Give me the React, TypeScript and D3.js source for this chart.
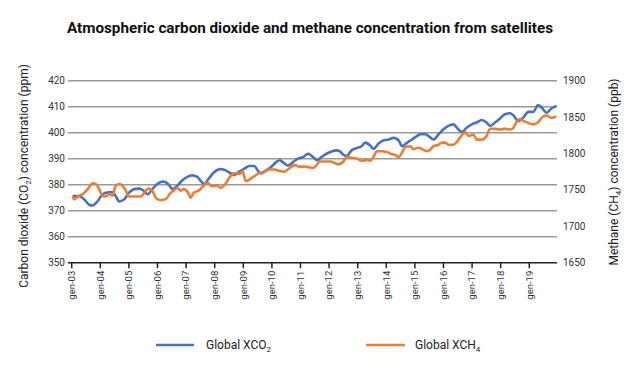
import React from "react";
import * as d3 from "d3";

const title = "Atmospheric carbon dioxide and methane concentration from satellites";
const yearTicks = [2003, 2004, 2005, 2006, 2007, 2008, 2009, 2010, 2011, 2012, 2013, 2014, 2015, 2016, 2017, 2018, 2019];
const yearLabels = ["gen-03", "gen-04", "gen-05", "gen-06", "gen-07", "gen-08", "gen-09", "gen-10", "gen-11", "gen-12", "gen-13", "gen-14", "gen-15", "gen-16", "gen-17", "gen-18", "gen-19"];
const co2Ticks = [350, 360, 370, 380, 390, 400, 410, 420];
const ch4Ticks = [1650, 1700, 1750, 1800, 1850, 1900];

const co2Time = [2003.03, 2003.27, 2003.44, 2003.61, 2003.73, 2003.9, 2004.08, 2004.25, 2004.43, 2004.54, 2004.66, 2004.83, 2005.01, 2005.18, 2005.36, 2005.53, 2005.65, 2005.82, 2005.99, 2006.17, 2006.28, 2006.4, 2006.52, 2006.69, 2006.86, 2007.04, 2007.21, 2007.39, 2007.5, 2007.62, 2007.79, 2007.97, 2008.2, 2008.37, 2008.55, 2008.68, 2008.86, 2009.04, 2009.21, 2009.39, 2009.5, 2009.62, 2009.8, 2009.97, 2010.15, 2010.27, 2010.38, 2010.56, 2010.74, 2010.91, 2011.09, 2011.27, 2011.44, 2011.58, 2011.73, 2011.91, 2012.09, 2012.26, 2012.38, 2012.5, 2012.61, 2012.79, 2012.97, 2013.14, 2013.26, 2013.44, 2013.55, 2013.73, 2013.91, 2014.08, 2014.26, 2014.43, 2014.55, 2014.72, 2014.9, 2015.07, 2015.19, 2015.36, 2015.48, 2015.65, 2015.83, 2016.0, 2016.17, 2016.35, 2016.47, 2016.64, 2016.81, 2016.99, 2017.16, 2017.34, 2017.51, 2017.63, 2017.8, 2017.97, 2018.15, 2018.33, 2018.44, 2018.62, 2018.79, 2018.97, 2019.14, 2019.31, 2019.43, 2019.6, 2019.78, 2019.95];
const co2Values = [375.6, 375.6, 374.3, 372.3, 372.0, 373.6, 376.3, 377.0, 377.2, 375.6, 373.6, 374.3, 377.0, 378.3, 378.5, 377.6, 376.3, 378.3, 380.3, 381.2, 381.0, 379.9, 378.3, 379.6, 381.6, 383.0, 383.6, 383.0, 381.6, 380.3, 382.3, 384.7, 386.0, 385.6, 384.4, 383.7, 385.0, 386.2, 387.2, 387.2, 385.5, 384.3, 385.5, 386.8, 388.7, 389.4, 388.7, 387.4, 388.7, 390.0, 390.6, 391.9, 390.6, 389.4, 390.6, 391.9, 392.8, 393.2, 392.8, 391.5, 391.0, 393.2, 394.1, 394.8, 396.2, 395.1, 393.8, 395.8, 397.1, 397.4, 398.0, 397.1, 394.8, 396.1, 397.4, 398.7, 399.4, 399.4, 398.7, 397.4, 399.4, 401.3, 402.6, 403.2, 401.9, 400.3, 401.9, 403.2, 403.9, 404.9, 403.9, 402.6, 403.9, 405.4, 407.1, 407.5, 406.7, 404.5, 405.8, 408.0, 408.0, 410.6, 409.7, 407.7, 409.3, 410.3];

const ch4Time = [2003.03, 2003.09, 2003.21, 2003.38, 2003.56, 2003.73, 2003.85, 2003.96, 2004.08, 2004.19, 2004.31, 2004.43, 2004.54, 2004.66, 2004.77, 2004.89, 2005.01, 2005.24, 2005.41, 2005.59, 2005.7, 2005.82, 2005.94, 2006.11, 2006.28, 2006.46, 2006.57, 2006.69, 2006.81, 2006.92, 2007.1, 2007.15, 2007.27, 2007.44, 2007.62, 2007.73, 2007.91, 2008.08, 2008.2, 2008.37, 2008.53, 2008.68, 2008.86, 2008.98, 2009.09, 2009.21, 2009.39, 2009.56, 2009.74, 2009.92, 2010.09, 2010.27, 2010.44, 2010.62, 2010.8, 2010.97, 2011.15, 2011.32, 2011.44, 2011.56, 2011.68, 2011.85, 2012.03, 2012.2, 2012.32, 2012.5, 2012.61, 2012.79, 2012.97, 2013.14, 2013.32, 2013.44, 2013.55, 2013.67, 2013.85, 2014.02, 2014.2, 2014.32, 2014.43, 2014.55, 2014.66, 2014.84, 2014.95, 2015.13, 2015.3, 2015.42, 2015.53, 2015.65, 2015.83, 2015.94, 2016.06, 2016.17, 2016.35, 2016.47, 2016.64, 2016.76, 2016.87, 2017.05, 2017.16, 2017.34, 2017.51, 2017.63, 2017.8, 2017.97, 2018.15, 2018.33, 2018.44, 2018.62, 2018.79, 2018.97, 2019.14, 2019.31, 2019.49, 2019.6, 2019.78, 2019.95];
const ch4Values = [1741, 1737, 1741, 1744, 1751, 1759, 1758, 1751, 1742, 1741, 1744, 1742, 1756, 1758, 1756, 1749, 1741, 1741, 1741, 1749, 1752, 1749, 1739, 1736, 1737, 1746, 1749, 1753, 1749, 1751, 1744, 1739, 1746, 1749, 1756, 1760, 1755, 1756, 1753, 1758, 1768, 1773, 1772, 1775, 1762, 1764, 1769, 1773, 1775, 1778, 1778, 1776, 1775, 1780, 1784, 1782, 1782, 1781, 1780, 1784, 1789, 1789, 1789, 1787, 1785, 1789, 1795, 1794, 1793, 1790, 1791, 1790, 1795, 1803, 1803, 1802, 1799, 1798, 1795, 1801, 1809, 1810, 1806, 1808, 1805, 1803, 1805, 1810, 1812, 1815, 1815, 1812, 1812, 1816, 1825, 1829, 1824, 1826, 1819, 1819, 1824, 1834, 1834, 1833, 1834, 1833, 1835, 1847, 1845, 1842, 1840, 1843, 1851, 1852, 1849, 1851];

const FONT = "Roboto, 'Liberation Sans', sans-serif";
const BLUE = "#4472C4";
const ORANGE = "#ED7D31";

export default function App() {
  const left = 68, right = 557, top = 80.7, bottom = 262.7;
  const x = d3.scaleLinear().domain([2002.87, 2019.97]).range([left, right]);
  const yL = d3.scaleLinear().domain([350, 420]).range([bottom, top]);
  const yR = d3.scaleLinear().domain([1650, 1900]).range([bottom, top]);

  const co2Line = d3.line<number>().x((_, i) => x(co2Time[i])).y((d) => yL(d)).curve(d3.curveMonotoneX);
  const ch4Line = d3.line<number>().x((_, i) => x(ch4Time[i])).y((d) => yR(d)).curve(d3.curveMonotoneX);

  return (
    <svg width={635} height={373} style={{ position: "absolute", left: 0, top: 0, background: "#fff" }} fontFamily={FONT}>
      <rect x={0} y={0} width={635} height={373} fill="#fff" />
      <text x={310} y={33} textAnchor="middle" fontSize={14.5} fontWeight="bold" fill="#111" textLength={486} lengthAdjust="spacingAndGlyphs">{title}</text>

      {co2Ticks.filter((t) => t !== 350).map((t) => (
        <line key={"g" + t} x1={left} x2={right} y1={yL(t)} y2={yL(t)} stroke="#9a9a9a" strokeWidth={1.5} />
      ))}
      <line x1={left} x2={right} y1={bottom} y2={bottom} stroke="#222" strokeWidth={1.5} />
      {yearTicks.map((t) => (
        <line key={"t" + t} x1={x(t)} x2={x(t)} y1={bottom} y2={bottom + 5.5} stroke="#222" strokeWidth={1.5} />
      ))}

      {co2Ticks.map((t) => (
        <text key={"l" + t} x={65} y={yL(t)} dy="0.35em" textAnchor="end" fontSize={10} fill="#333">{t}</text>
      ))}
      {ch4Ticks.map((t) => (
        <text key={"r" + t} x={563} y={yR(t)} dy="0.35em" textAnchor="start" fontSize={10} fill="#333">{t}</text>
      ))}
      {yearTicks.map((t, i) => (
        <text key={"x" + t} transform={`translate(${x(t)},${bottom + 8}) rotate(-90)`} dy="0.35em" textAnchor="end" fontSize={9.5} fill="#333">{yearLabels[i]}</text>
      ))}

      <text transform="translate(24,176) rotate(-90)" textAnchor="middle" dy="0.35em" fontSize={12} fill="#222">
        Carbon dioxide (CO<tspan fontSize={8} dy="3">2</tspan><tspan dy="-3">) concentration (ppm)</tspan>
      </text>
      <text transform="translate(614,172) rotate(-90)" textAnchor="middle" dy="0.35em" fontSize={12} fill="#222">
        Methane (CH<tspan fontSize={8} dy="3">4</tspan><tspan dy="-3">) concentration (ppb)</tspan>
      </text>

      <path d={co2Line(co2Values) || ""} fill="none" stroke={BLUE} strokeWidth={2.6} strokeLinejoin="round" />
      <path d={ch4Line(ch4Values) || ""} fill="none" stroke={ORANGE} strokeWidth={2.6} strokeLinejoin="round" />

      <line x1={156} x2={194} y1={345} y2={345} stroke={BLUE} strokeWidth={2.6} />
      <text x={206} y={349} fontSize={12} fill="#222">Global XCO<tspan fontSize={8} dy="3">2</tspan></text>
      <line x1={366} x2={405} y1={345} y2={345} stroke={ORANGE} strokeWidth={2.6} />
      <text x={415} y={349} fontSize={12} fill="#222">Global XCH<tspan fontSize={8} dy="3">4</tspan></text>
    </svg>
  );
}
